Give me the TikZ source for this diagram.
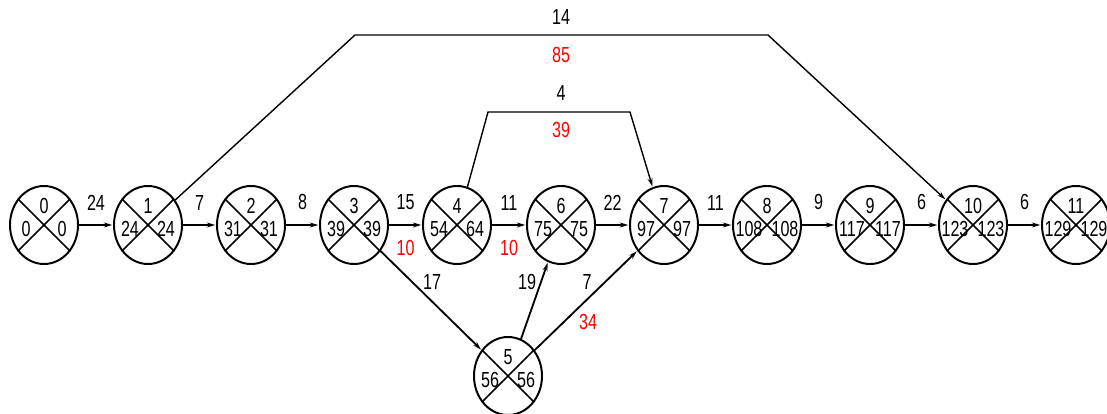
\documentclass[tikz,border=0pt]{standalone}
\usepackage{fontspec}
\setmainfont{Liberation Sans}[FakeStretch=0.74]
\usepackage{tikz}
\usetikzlibrary{shapes.geometric, arrows.meta}

% event: name, x, y, number, early, late
\newcommand{\eventnode}[6]{%
  \node[event] (#1) at (#2,#3) {};
  \draw[cross] (#1.45) -- (#1.225);
  \draw[cross] (#1.135) -- (#1.315);
  \node[num] (#1-n) at (#2,#3-19) {#4};
  \node[num] (#1-e) at (#2-18,#3+4) {#5};
  \node[num] (#1-l) at (#2+18,#3+4) {#6};
}

\begin{document}
\begin{tikzpicture}[
  x=0.025cm, y=-0.025cm,
  event/.style={
    ellipse,
    draw,
    line width=1.4pt,
    minimum width=1.7cm,
    minimum height=1.95cm,
    inner sep=0pt
  },
  cross/.style={line width=1.2pt},
  num/.style={inner sep=0pt, font=\fontsize{15.5}{15.5}\selectfont},
  lab/.style={inner sep=0pt, font=\fontsize{15.5}{15.5}\selectfont},
  rlab/.style={lab, text=red},
  arc/.style={
    -{Stealth[length=6pt, width=3.5pt]},
    line width=1.3pt,
    shorten >=0.5pt
  },
  thinarc/.style={arc, line width=1pt}
]
  \useasboundingbox (0,0) rectangle (1107,414);

  % Events
  \eventnode{e0}{44}{225}{0}{0}{0}
  \eventnode{e1}{148}{225}{1}{24}{24}
  \eventnode{e2}{251}{225}{2}{31}{31}
  \eventnode{e3}{354}{225}{3}{39}{39}
  \eventnode{e4}{457}{225}{4}{54}{64}
  \eventnode{e6}{561}{225}{6}{75}{75}
  \eventnode{e7}{664}{225}{7}{97}{97}
  \eventnode{e8}{767}{225}{8}{108}{108}
  \eventnode{e9}{870}{225}{9}{117}{117}
  \eventnode{e10}{973}{225}{10}{123}{123}
  \eventnode{e11}{1076}{225}{11}{129}{129}
  \eventnode{e5}{508}{376}{5}{56}{56}

  % Bends of the upper works
  \coordinate (t1) at (355,35);
  \coordinate (t2) at (768,35);
  \coordinate (u1) at (488,112);
  \coordinate (u2) at (630,112);

  % Works along the main row
  \draw[arc] (e0) -- node[lab, above=10pt] (w01) {24} (e1);
  \draw[arc] (e1) -- node[lab, above=10pt] (w12) {7} (e2);
  \draw[arc] (e2) -- node[lab, above=10pt] (w23) {8} (e3);
  \draw[arc] (e3) -- node[lab, above=10pt] (w34) {15}
                     node[rlab, below=10pt] (r34) {10} (e4);
  \draw[arc] (e4) -- node[lab, above=10pt] (w46) {11}
                     node[rlab, below=10pt] (r46) {10} (e6);
  \draw[arc] (e6) -- node[lab, above=10pt] (w67) {22} (e7);
  \draw[arc] (e7) -- node[lab, above=10pt] (w78) {11} (e8);
  \draw[arc] (e8) -- node[lab, above=10pt] (w89) {9} (e9);
  \draw[arc] (e9) -- node[lab, above=10pt] (w910) {6} (e10);
  \draw[arc] (e10) -- node[lab, above=10pt] (w1011) {6} (e11);

  % Works through event 5
  \draw[arc] (e3) -- (e5);
  \draw[arc] (e5) -- (e6);
  \draw[arc] (e5) -- (e7);
  \node[lab] (w35) at (432,282) {17};
  \node[lab] (w56) at (527,282) {19};
  \node[lab] (w57) at (587,282) {7};
  \node[rlab] (r57) at (588,322) {34};

  % Upper works
  \draw[thinarc] (e1) -- (t1) -- (t2) -- (e10);
  \draw[thinarc] (e4) -- (u1) -- (u2) -- (e7);
  \node[lab] (w110) at (561,17) {14};
  \node[rlab] (r110) at (561,55) {85};
  \node[lab] (w47) at (561,93) {4};
  \node[rlab] (r47) at (561,130) {39};
\end{tikzpicture}
\end{document}
